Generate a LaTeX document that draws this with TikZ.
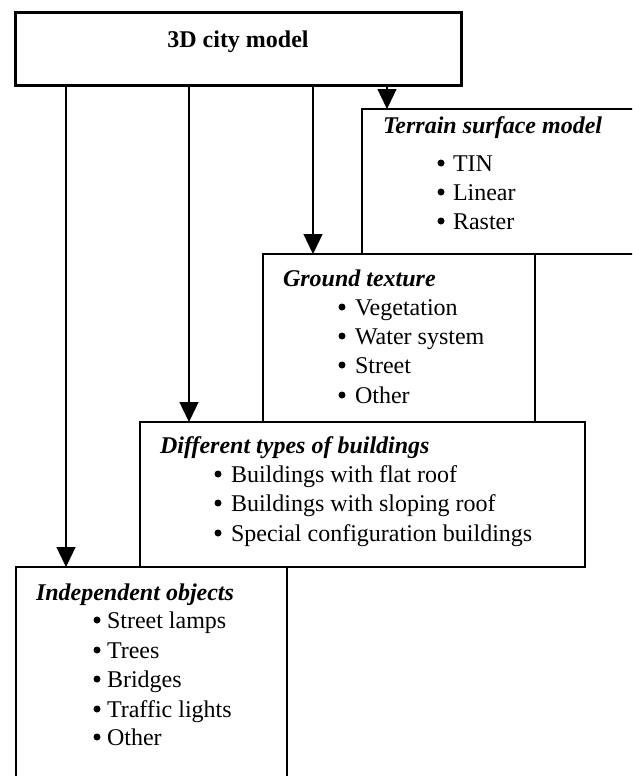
\documentclass[tikz,border=0pt]{standalone}
\usepackage{fontspec}
\setmainfont{Liberation Serif}
\usetikzlibrary{arrows.meta}
\begin{document}
\begin{tikzpicture}[x=0.5pt,y=-0.5pt,
  every node/.style={inner sep=0pt, outer sep=0pt, font=\fontsize{12}{14.6}\selectfont},
  boxstyle/.style={draw=black, fill=white, rectangle, line width=0.65pt, anchor=north west},
  topbox/.style={boxstyle, line width=1.5pt},
  ttl/.style={anchor=base west, font=\fontsize{12}{14.6}\selectfont\bfseries\itshape},
  bul/.style={circle, fill=black, minimum size=3.5pt},
  itm/.style={anchor=base west},
  arr/.style={line width=0.65pt, -{Triangle[length=10pt, width=9.5pt]}}]
\useasboundingbox (0,0) rectangle (632,776);
\fill[white] (0,0) rectangle (632,776);
\clip (0,0) rectangle (632,776);

% top box
\node[topbox, minimum width=223pt, minimum height=36.25pt] (top) at (15,12.5) {};
\node[anchor=base, font=\fontsize{12}{14.6}\selectfont\bfseries] (toptxt) at (238,47) {3D city model};

% terrain surface model
\node[boxstyle, minimum width=139pt, minimum height=72.5pt] (ter) at (362,109) {};
\node[ttl] (tert) at (383,133) {Terrain surface model};
\foreach \y/\t [count=\i] in {171/TIN, 200/Linear, 229/Raster}{
  \node[bul] (terb\i) at (441,{\y-8}) {};
  \node[itm] (teri\i) at (453,\y) {\t};
}

% ground texture
\node[boxstyle, minimum width=136pt, minimum height=84pt] (gro) at (263,254) {};
\node[ttl] (grot) at (283,286) {Ground texture};
\foreach \y/\t [count=\i] in {315/Vegetation, 344/Water system, 373/Street, 403/Other}{
  \node[bul] (grob\i) at (342,{\y-8}) {};
  \node[itm] (groi\i) at (355,\y) {\t};
}

% buildings
\node[boxstyle, minimum width=222.5pt, minimum height=72.5pt] (bui) at (140,422) {};
\node[ttl] (buit) at (160,453) {Different types of buildings};
\foreach \y/\t [count=\i] in {482/Buildings with flat roof, 511/Buildings with sloping roof, 541/Special configuration buildings}{
  \node[bul] (buib\i) at (218,{\y-8}) {};
  \node[itm] (buii\i) at (231,\y) {\t};
}

% independent objects
\node[boxstyle, minimum width=135.5pt, minimum height=116.5pt] (ind) at (16,567) {};
\node[ttl] (indt) at (36,600) {Independent objects};
\foreach \y/\t [count=\i] in {628/Street lamps, 658/Trees, 687/Bridges, 717/Traffic lights, 745/Other}{
  \node[bul] (indb\i) at (97,{\y-8}) {};
  \node[itm] (indi\i) at (107,\y) {\t};
}

% connectors
\coordinate (c1) at (66,0);
\coordinate (c2) at (189,0);
\coordinate (c3) at (313,0);
\coordinate (c4) at (387,0);
\draw[arr] (top.south -| c1) -- (ind.north -| c1);
\draw[arr] (top.south -| c2) -- (bui.north -| c2);
\draw[arr] (top.south -| c3) -- (gro.north -| c3);
\draw[arr] (top.south -| c4) -- (ter.north -| c4);
\end{tikzpicture}
\end{document}
